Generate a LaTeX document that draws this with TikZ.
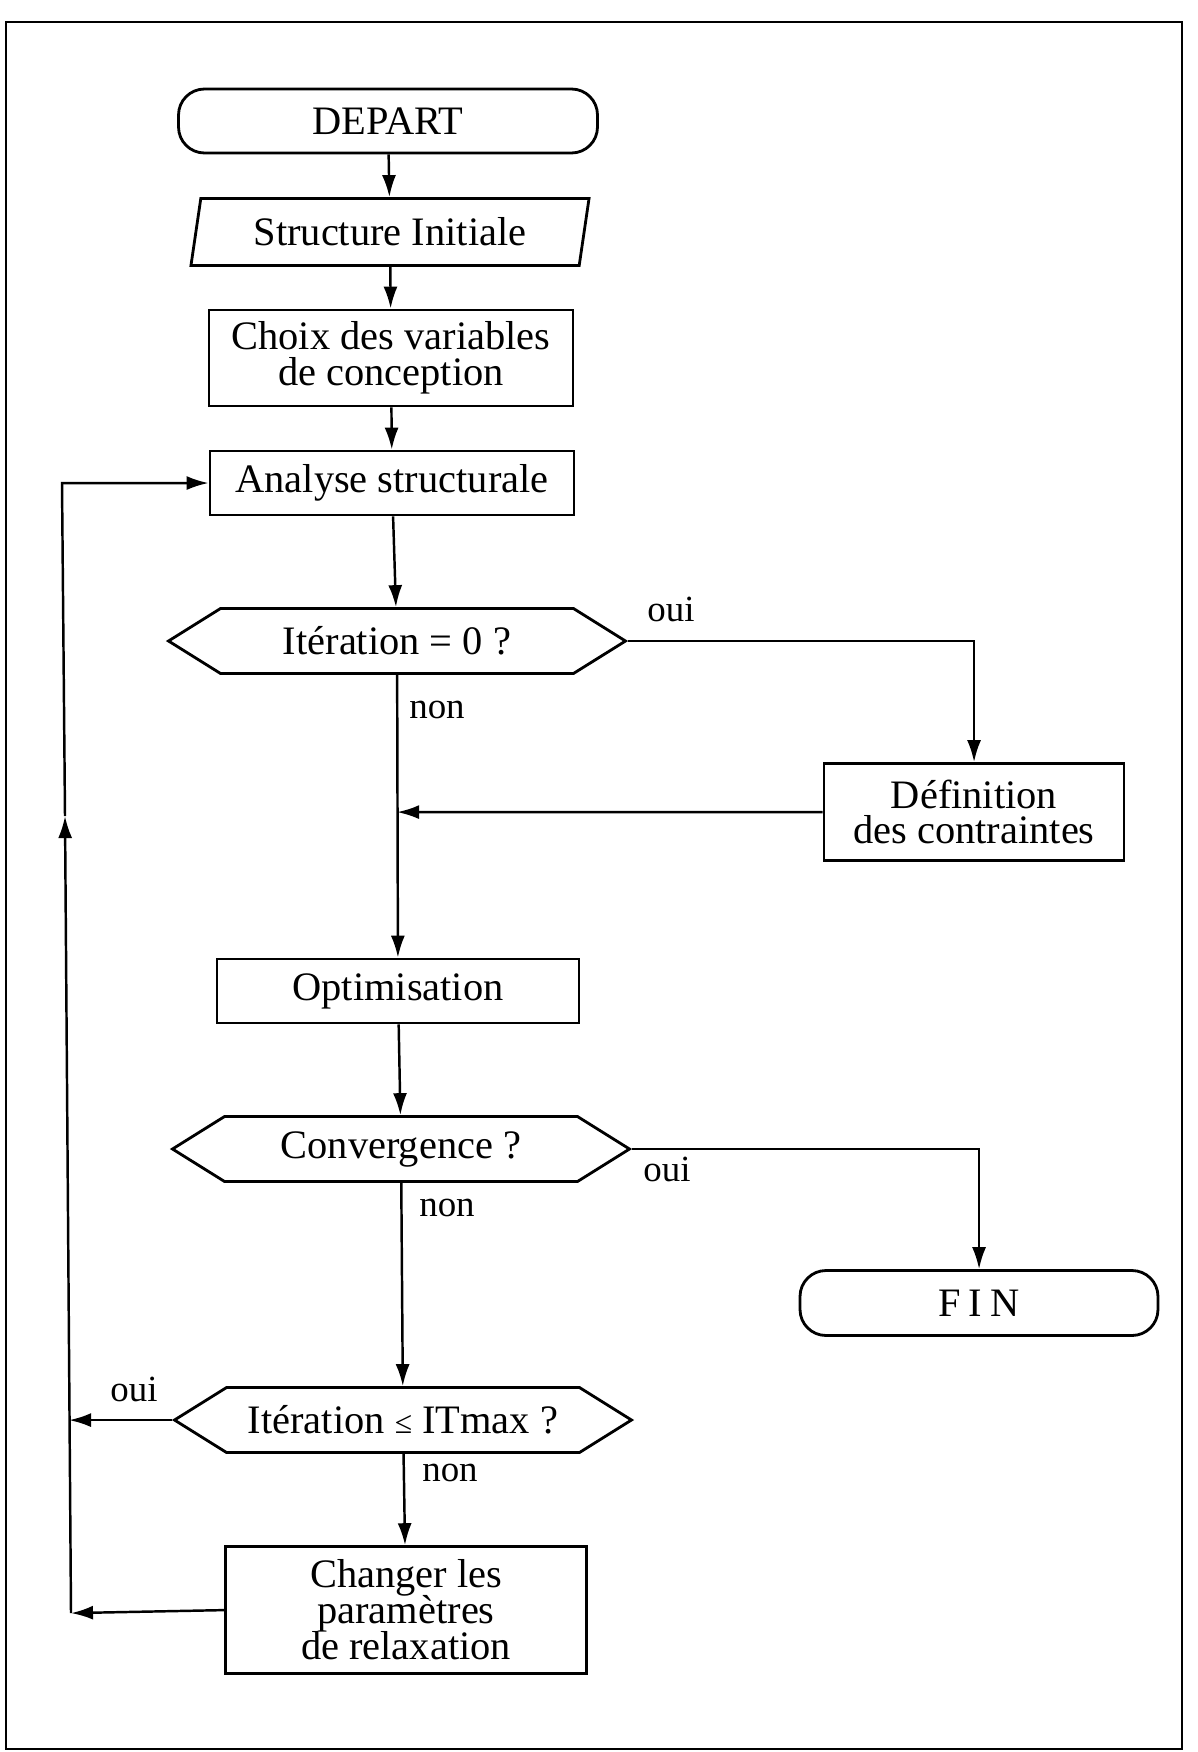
\documentclass[tikz,border=0pt]{standalone}
\usepackage{fontspec}
\setmainfont{Liberation Serif}
\usetikzlibrary{shapes.geometric,shapes.symbols,arrows.meta}
\newcommand\boitefont{\fontsize{11.5}{10.2}\selectfont\lineskiplimit -6pt\relax}

\begin{document}
\begin{tikzpicture}[scale=0.1]
  \tikzstyle{every node}+=[inner sep=0pt, font=\boitefont]
  \tikzstyle{terminal}=[draw, line width=0.8pt, rounded corners=2.6mm, minimum height=0.64cm]
  \tikzstyle{donnee}=[draw, line width=0.8pt, trapezium, trapezium left angle=76, trapezium right angle=104, trapezium stretches=true, minimum height=0.67cm, minimum width=4.0cm]
  \tikzstyle{process}=[draw, line width=0.8pt, rectangle, align=center]
  \tikzstyle{decision}=[draw, line width=0.8pt, signal, signal to=west and east, signal pointer angle=64, minimum height=0.65cm, minimum width=4.57cm]
  \tikzstyle{arr}=[black, line width=0.7pt, -{Latex[length=2.2mm,width=1.4mm]}]
  \tikzstyle{line}=[black, line width=0.7pt]
  \tikzstyle{reponse}=[font=\fontsize{10.5}{11}\selectfont]
  \useasboundingbox (0,0) rectangle (119.7,-175.2);
  \draw [black, line width=0.7pt] (0.6,-2.2) rectangle (118.2,-174.9);
  \node [terminal, minimum width=4.19cm] (depart) at (38.8,-12.1) {DEPART};
  \node [donnee] (init) at (39.0,-23.2) {Structure Initiale};
  \node [process, minimum width=3.64cm, minimum height=0.96cm] (choix) at (39.1,-35.8) {Choix des variables\\de conception};
  \node [process, minimum width=3.64cm, minimum height=0.64cm] (analyse) at (39.2,-48.3) {Analyse structurale};
  \node [decision] (iter0) at (39.7,-64.1) {It\'eration = 0 ?};
  \node [process, minimum width=3.0cm, minimum height=0.97cm] (defin) at (97.4,-81.2) {D\'efinition\\des contraintes};
  \node [process, minimum width=3.62cm, minimum height=0.64cm] (optim) at (39.8,-99.1) {Optimisation};
  \node [decision] (conv) at (40.1,-114.9) {Convergence ?};
  \node [terminal, minimum width=3.58cm, minimum height=0.65cm] (fin) at (97.9,-130.3) {F\hspace{.2em}I\hspace{.2em}N};
  \node [decision] (itmax) at (40.3,-142.0) {It\'eration {\fontsize{9}{9}\selectfont ≤} ITmax ?};
  \node [process, minimum width=3.61cm, minimum height=1.27cm] (changer) at (40.6,-161.0) {Changer les\\param\`etres\\de relaxation};
  \coordinate (j1) at (iter0.south |- defin.west);
  \coordinate (lt) at (6.2,-48.3);
  \coordinate (lu) at (6.5,-81.6);
  \coordinate (lm) at (6.9,-142.0);
  \coordinate (lb) at (7.1,-161.3);
  \draw [arr] (depart) -- (init);
  \draw [arr] (init) -- (choix);
  \draw [arr] (choix) -- (analyse);
  \draw [arr] (analyse) -- (iter0);
  \draw [arr] (iter0) -- (optim);
  \draw [arr] (iter0.east) -| (defin.north);
  \draw [arr] (defin.west) -- (j1);
  \draw [arr] (optim) -- (conv);
  \draw [arr] (conv.east) -| (fin.north);
  \draw [arr] (conv) -- (itmax);
  \draw [arr] (itmax) -- (changer);
  \draw [arr] (itmax.west) -- (lm);
  \draw [arr] (changer.west) -- (lb);
  \draw [arr] (lb) -- (lu);
  \draw [arr] (lu) -- (lt) -- (analyse.west);
  \node [reponse] (oui1) at (67.1,-60.9) {oui};
  \node [reponse] (non1) at (43.7,-71.0) {non};
  \node [reponse] (oui2) at (66.7,-116.9) {oui};
  \node [reponse] (non2) at (44.7,-120.8) {non};
  \node [reponse] (oui3) at (13.4,-138.9) {oui};
  \node [reponse] (non3) at (45.0,-147.3) {non};
\end{tikzpicture}
\end{document}
